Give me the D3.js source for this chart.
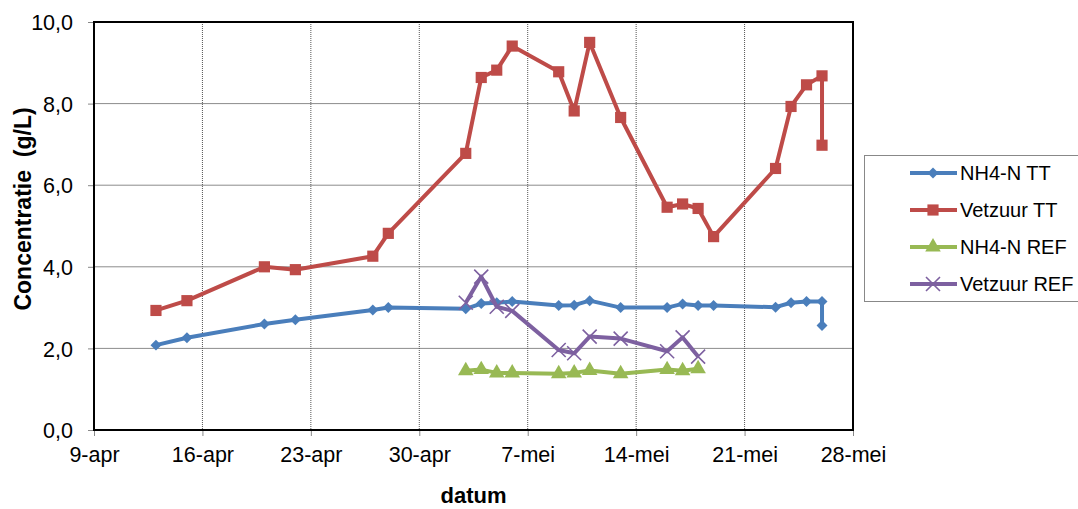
<!DOCTYPE html>
<html>
<head>
<meta charset="utf-8">
<script src="https://cdn.jsdelivr.net/npm/d3@7"></script>
<style>
  body { margin: 0; background: #fff; }
  svg { font-family: "Liberation Sans", Arial, sans-serif; }
</style>
</head>
<body>
<div id="chart"></div>
<script>
// dates (mm-dd, 2012 assumed) and series values
const ttDates = ["04-13","04-15","04-20","04-22","04-27","04-28","05-03","05-04","05-05","05-06",
  "05-09","05-10","05-11","05-13","05-16","05-17","05-18","05-19","05-23","05-24","05-25","05-26","05-26"];
const nh4TT = [2.08,2.26,2.60,2.70,2.94,3.00,2.97,3.10,3.12,3.15,3.05,3.06,3.17,3.00,3.00,3.09,3.05,3.05,3.01,3.12,3.15,3.15,2.56];
const vetTT = [2.93,3.17,4.00,3.93,4.26,4.82,6.78,8.64,8.82,9.41,8.78,7.82,9.50,7.66,5.46,5.54,5.43,4.74,6.41,7.93,8.46,8.68,6.98];

const refDates = ["05-03","05-04","05-05","05-06","05-09","05-10","05-11","05-13","05-16","05-17","05-18"];
const nh4REF = [1.45,1.48,1.40,1.40,1.38,1.40,1.46,1.38,1.48,1.45,1.50];
const vetREF = [3.12,3.76,3.02,2.92,1.96,1.88,2.29,2.24,1.93,2.27,1.80];

const xTicks = ["04-09","04-16","04-23","04-30","05-07","05-14","05-21","05-28"];
const monthNames = ["jan","feb","mrt","apr","mei","jun","jul","aug","sep","okt","nov","dec"];
const yTicks = [0, 2, 4, 6, 8, 10];

const width = 1078, height = 509;
const margin = {top: 22, right: 225, bottom: 79, left: 94};
const innerW = width - margin.left - margin.right;
const innerH = height - margin.top - margin.bottom;

const parse = s => d3.timeParse("%Y-%m-%d")("2012-" + s);

const series = [
  {name: "NH4-N TT", color: "#4A7EBB", dates: ttDates, values: nh4TT, marker: "diamond"},
  {name: "Vetzuur TT", color: "#BE4B48", dates: ttDates, values: vetTT, marker: "square"},
  {name: "NH4-N REF", color: "#98B954", dates: refDates, values: nh4REF, marker: "triangle"},
  {name: "Vetzuur REF", color: "#7D60A0", dates: refDates, values: vetREF, marker: "cross"}
];

const svg = d3.select("#chart").append("svg")
  .attr("width", width)
  .attr("height", height);

const g = svg.append("g")
  .attr("transform", "translate(" + margin.left + "," + margin.top + ")");

const x = d3.scaleTime()
  .domain([parse(xTicks[0]), parse(xTicks[xTicks.length - 1])])
  .range([0, innerW]);

const y = d3.scaleLinear()
  .domain([0, 10])
  .range([innerH, 0]);

// gridlines
g.append("g")
  .selectAll("line")
  .data(yTicks.slice(1))
  .enter().append("line")
    .attr("x1", 0).attr("x2", innerW)
    .attr("y1", d => y(d)).attr("y2", d => y(d))
    .attr("stroke", "#8c8c8c").attr("stroke-width", 1);

g.append("g")
  .selectAll("line")
  .data(xTicks.slice(1, -1).map(parse))
  .enter().append("line")
    .attr("x1", d => x(d)).attr("x2", d => x(d))
    .attr("y1", 0).attr("y2", innerH)
    .attr("stroke", "#555").attr("stroke-width", 1)
    .attr("stroke-dasharray", "1,1");

// axes
const xAxis = g.append("g")
  .attr("transform", "translate(0," + innerH + ")")
  .call(d3.axisBottom(x)
    .tickValues(xTicks.map(parse))
    .tickSize(6)
    .tickPadding(11)
    .tickFormat(d => d.getDate() + "-" + monthNames[d.getMonth()]));

const yAxis = g.append("g")
  .call(d3.axisLeft(y)
    .tickValues(yTicks)
    .tickSize(6)
    .tickPadding(15)
    .tickFormat(d => d3.format(".1f")(d).replace(".", ",")));

[xAxis, yAxis].forEach(a => {
  a.select(".domain").remove();
  a.selectAll(".tick line").attr("stroke", "#888");
  a.selectAll(".tick text")
    .attr("fill", "#000")
    .style("font-size", "21.5px")
    .style("font-family", "'Liberation Sans', Arial, sans-serif");
});
yAxis.selectAll(".tick text").attr("dy", "0.36em");

// plot border
g.append("rect")
  .attr("x", 0).attr("y", 0)
  .attr("width", innerW).attr("height", innerH)
  .attr("fill", "none")
  .attr("stroke", "#000").attr("stroke-width", 2);

// marker drawing
function drawMarker(sel, type, color) {
  if (type === "diamond") {
    sel.append("path").attr("d", d3.symbol(d3.symbolSquare, 60)()).attr("fill", color);
  } else if (type === "square") {
    sel.append("path").attr("d", d3.symbol(d3.symbolSquare, 125)()).attr("fill", color);
  } else if (type === "triangle") {
    sel.append("path").attr("d", d3.symbol(d3.symbolTriangle, 105)()).attr("fill", color);
  } else {
    sel.append("path").attr("d", "M-7,-7L7,7M-7,7L7,-7")
      .attr("stroke", color).attr("stroke-width", 1.6).attr("fill", "none");
  }
}

const line = d3.line()
  .x(d => x(d.date))
  .y(d => y(d.value));

series.forEach(s => {
  const pts = s.dates.map((d, i) => ({date: parse(d), value: s.values[i]}));
  g.append("path")
    .datum(pts)
    .attr("d", line)
    .attr("fill", "none")
    .attr("stroke", s.color)
    .attr("stroke-width", 4)
    .attr("stroke-linejoin", "round");
  const m = g.append("g").selectAll("g")
    .data(pts)
    .enter().append("g")
      .attr("transform", d => "translate(" + x(d.date) + "," + y(d.value) + ")" + (s.marker === "diamond" ? " rotate(45)" : ""));
  drawMarker(m, s.marker, s.color);
});

// axis titles
svg.append("text")
  .attr("x", margin.left + innerW / 2)
  .attr("y", 503)
  .attr("text-anchor", "middle")
  .style("font-size", "22px")
  .style("font-weight", "bold")
  .text("datum");

svg.append("text")
  .attr("transform", "translate(31,209) rotate(-90)")
  .attr("text-anchor", "middle")
  .style("font-size", "23px")
  .style("font-weight", "bold")
  .style("white-space", "pre")
  .text("Concentratie  (g/L)");

// legend
const legend = svg.append("g");
legend.append("rect")
  .attr("x", 864.5).attr("y", 155.5)
  .attr("width", 220).attr("height", 146)
  .attr("fill", "#fff")
  .attr("stroke", "#888").attr("stroke-width", 1);

const legendY = d3.scalePoint()
  .domain(series.map(s => s.name))
  .range([173, 284]);

series.forEach(s => {
  const row = legend.append("g")
    .attr("transform", "translate(0," + legendY(s.name) + ")");
  row.append("line")
    .attr("x1", 910).attr("x2", 957)
    .attr("stroke", s.color).attr("stroke-width", 4);
  const mk = row.append("g")
    .attr("transform", "translate(933,0)" + (s.marker === "diamond" ? " rotate(45)" : ""));
  drawMarker(mk, s.marker, s.color);
  row.append("text")
    .attr("x", 960).attr("y", 0)
    .attr("dy", "0.36em")
    .style("font-size", "20px")
    .text(s.name);
});
</script>
</body>
</html>
